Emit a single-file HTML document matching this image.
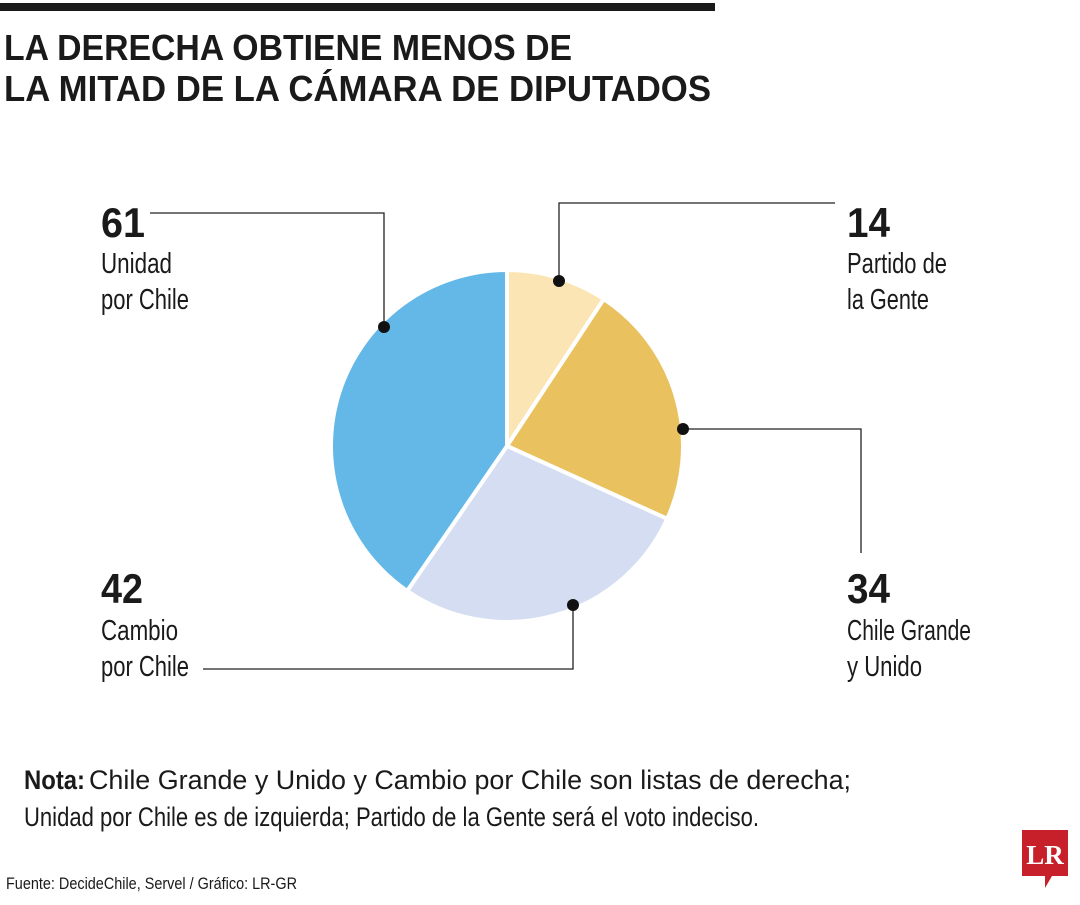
<!DOCTYPE html>
<html><head><meta charset="utf-8"><style>
body{margin:0;background:#fff;width:1080px;height:900px;overflow:hidden;font-family:"Liberation Sans",sans-serif;}
svg text{font-family:"Liberation Sans",sans-serif;}
</style></head><body>
<svg width="1080" height="900">
<rect x="0" y="3" width="715" height="8" fill="#1a1a1a"/>
<text x="4" y="60" font-size="36" font-weight="bold" fill="#1a1a1a" textLength="568" lengthAdjust="spacingAndGlyphs">LA DERECHA OBTIENE MENOS DE</text>
<text x="4" y="101" font-size="36" font-weight="bold" fill="#1a1a1a" textLength="707" lengthAdjust="spacingAndGlyphs">LA MITAD DE LA CÁMARA DE DIPUTADOS</text>
<g id="pie"></g>
<g fill="none" stroke="#222" stroke-width="1.3">
<polyline points="150,213 384,213 384,327"/>
<polyline points="559,281 559,203 835,203"/>
<polyline points="683,429 861,429 861,553"/>
<polyline points="573,605 573,669 203,669"/>
</g>
<g fill="#111">
<circle cx="384" cy="327" r="6"/><circle cx="559" cy="281" r="6"/><circle cx="683" cy="429" r="6"/><circle cx="573" cy="605" r="6"/>
</g>
<g fill="#1a1a1a">
<text x="101" y="237" font-size="42" font-weight="bold" textLength="44" lengthAdjust="spacingAndGlyphs">61</text>
<text x="101" y="273" font-size="29" textLength="71" lengthAdjust="spacingAndGlyphs">Unidad</text>
<text x="101" y="309" font-size="29" textLength="88" lengthAdjust="spacingAndGlyphs">por Chile</text>
<text x="847" y="237" font-size="42" font-weight="bold" textLength="43" lengthAdjust="spacingAndGlyphs">14</text>
<text x="847" y="273" font-size="29" textLength="100" lengthAdjust="spacingAndGlyphs">Partido de</text>
<text x="847" y="309" font-size="29" textLength="82" lengthAdjust="spacingAndGlyphs">la Gente</text>
<text x="847" y="603" font-size="42" font-weight="bold" textLength="43" lengthAdjust="spacingAndGlyphs">34</text>
<text x="847" y="640" font-size="29" textLength="124" lengthAdjust="spacingAndGlyphs">Chile Grande</text>
<text x="847" y="676" font-size="29" textLength="75" lengthAdjust="spacingAndGlyphs">y Unido</text>
<text x="101" y="603" font-size="42" font-weight="bold" textLength="42" lengthAdjust="spacingAndGlyphs">42</text>
<text x="101" y="640" font-size="29" textLength="77" lengthAdjust="spacingAndGlyphs">Cambio</text>
<text x="101" y="676" font-size="29" textLength="88" lengthAdjust="spacingAndGlyphs">por Chile</text>
</g>
<text x="24" y="789" font-size="27" font-weight="bold" fill="#1a1a1a" textLength="61" lengthAdjust="spacingAndGlyphs">Nota:</text>
<text x="89" y="789" font-size="27" fill="#1a1a1a" textLength="762" lengthAdjust="spacingAndGlyphs">Chile Grande y Unido y Cambio por Chile son listas de derecha;</text>
<text x="24" y="826" font-size="27" fill="#1a1a1a" textLength="735" lengthAdjust="spacingAndGlyphs">Unidad por Chile es de izquierda; Partido de la Gente será el voto indeciso.</text>
<text x="6" y="889" font-size="17" fill="#1a1a1a" textLength="291" lengthAdjust="spacingAndGlyphs">Fuente: DecideChile, Servel / Gráfico: LR-GR</text>
<g>
<path d="M1022,830 H1068 V876 H1052 L1045,888 L1045,876 H1022 Z" fill="#c8202a"/>
<text x="1045" y="864" font-size="27" font-weight="bold" fill="#fff" text-anchor="middle" style="font-family:'Liberation Serif',serif">LR</text>
</g>
</svg>
<script>
const categories = ["Partido de la Gente","Chile Grande y Unido","Cambio por Chile","Unidad por Chile"];
const seats = [14, 34, 42, 61];
const colors = ["#fce5b4","#e9c15f","#d4ddf1","#63b8e8"];
const cx=507, cy=446, R=176;
const g=document.getElementById('pie');
const total=seats.reduce((a,b)=>a+b,0);
let acc=0;
function pt(a){return [cx+R*Math.sin(a), cy-R*Math.cos(a)];}
seats.forEach((v,i)=>{
  const a0=acc/total*2*Math.PI; acc+=v; const a1=acc/total*2*Math.PI;
  const p0=pt(a0), p1=pt(a1);
  const large=(a1-a0)>Math.PI?1:0;
  const p=document.createElementNS('http://www.w3.org/2000/svg','path');
  p.setAttribute('d',`M${cx},${cy} L${p0[0]},${p0[1]} A${R},${R} 0 ${large} 1 ${p1[0]},${p1[1]} Z`);
  p.setAttribute('fill',colors[i]);
  p.setAttribute('stroke','#fff');
  p.setAttribute('stroke-width','4');
  p.setAttribute('stroke-linejoin','round');
  
  
  g.appendChild(p);
});
</script>
</body></html>
